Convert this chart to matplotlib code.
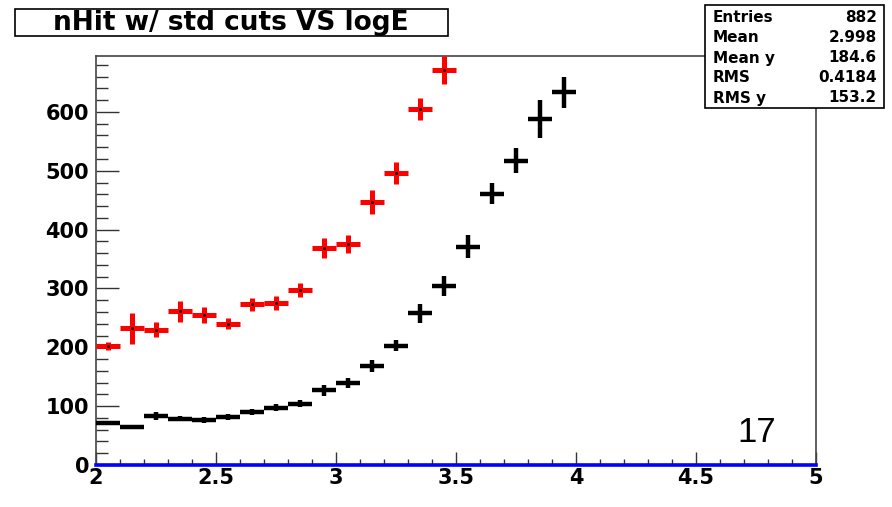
import matplotlib.pyplot as plt
from matplotlib.patches import Rectangle
from matplotlib.ticker import MultipleLocator

plt.rcParams['font.family'] = ['DejaVu Sans']

# bin centres (logE), bin width 0.1
x_red = [2.05, 2.15, 2.25, 2.35, 2.45, 2.55, 2.65, 2.75, 2.85, 2.95,
         3.05, 3.15, 3.25, 3.35, 3.45]
y_red = [202, 232, 230, 261, 255, 240, 273, 276, 297, 368,
         375, 447, 496, 605, 671]
e_red = [7, 27, 13, 18, 13, 9, 11, 12, 12, 17,
         15, 21, 19, 19, 24]

x_blk = [2.05, 2.15, 2.25, 2.35, 2.45, 2.55, 2.65, 2.75, 2.85, 2.95,
         3.05, 3.15, 3.25, 3.35, 3.45, 3.55, 3.65, 3.75, 3.85, 3.95]
y_blk = [72, 64, 83, 79, 77, 81, 90, 97, 104, 127,
         139, 168, 203, 258, 305, 371, 461, 517, 588, 633]
e_blk = [3, 0, 7, 5, 5, 5, 5, 6, 6, 9,
         8, 10, 10, 16, 17, 19, 18, 21, 33, 27]

stats_names = ["Entries", "Mean", "Mean y", "RMS", "RMS y"]
stats_vals = ["882", "2.998", "184.6", "0.4184", "153.2"]

fig = plt.figure(figsize=(8.92, 5.07), dpi=100)
ax = fig.add_axes([96 / 892, 42 / 507, 720 / 892, 409 / 507])

ax.axhline(0, color='#0000ff', lw=2.6, zorder=3, clip_on=False)

ax.errorbar(x_red, y_red, xerr=0.05, yerr=e_red, fmt='none',
            ecolor='#ff0000', elinewidth=3.6, capsize=0, zorder=4)
ax.plot(x_red, y_red, ls='none', marker='s', ms=1, color='k', zorder=5)
ax.errorbar(x_blk, y_blk, xerr=0.05, yerr=e_blk, fmt='none',
            ecolor='black', elinewidth=3.2, capsize=0, zorder=4)

ax.set_xlim(2, 5)
ax.set_ylim(0, 695)
ax.xaxis.set_major_locator(MultipleLocator(0.5))
ax.xaxis.set_minor_locator(MultipleLocator(0.1))
ax.yaxis.set_major_locator(MultipleLocator(100))
ax.yaxis.set_minor_locator(MultipleLocator(20))
ax.set_xticks([2, 2.5, 3, 3.5, 4, 4.5, 5])
ax.set_xticklabels(["2", "2.5", "3", "3.5", "4", "4.5", "5"])
ax.set_yticks([0, 100, 200, 300, 400, 500, 600])

ax.tick_params(axis='both', which='both', direction='in', top=False, right=False,
               color='#333333', width=1)
ax.tick_params(axis='y', which='major', length=16.5, pad=5)
ax.tick_params(axis='y', which='minor', length=8.5)
ax.tick_params(axis='x', which='major', length=9.5, pad=2)
ax.tick_params(axis='x', which='minor', length=4.5)
for lab in ax.get_xticklabels() + ax.get_yticklabels():
    lab.set_fontweight('bold')
    lab.set_fontsize(15)
for sp in ax.spines.values():
    sp.set_color('#444444')
    sp.set_linewidth(1.2)

ax.text(661 / 720, 32 / 409, "17", transform=ax.transAxes, fontsize=25,
        ha='center', va='center', family=['Liberation Sans', 'DejaVu Sans'])

# title box
fig.patches.append(Rectangle((0.0168, 0.929), 0.4854, 0.0533, transform=fig.transFigure,
                             fill=True, facecolor='white', edgecolor='black', lw=1.2))
fig.text(0.259, 0.9556, "nHit w/ std cuts VS logE", ha='center', va='center',
         fontsize=19, fontweight='bold')

# stats box
fig.patches.append(Rectangle((0.790, 0.787), 0.2007, 0.203, transform=fig.transFigure,
                             fill=True, facecolor='white', edgecolor='black', lw=1.2))
for i, (n, v) in enumerate(zip(stats_names, stats_vals)):
    yy = 1 - (18 + 20 * i) / 507
    fig.text(0.799, yy, n, ha='left', va='center', fontsize=11, fontweight='bold')
    fig.text(0.983, yy, v, ha='right', va='center', fontsize=11, fontweight='bold')

fig.savefig("out.png", dpi=100)
